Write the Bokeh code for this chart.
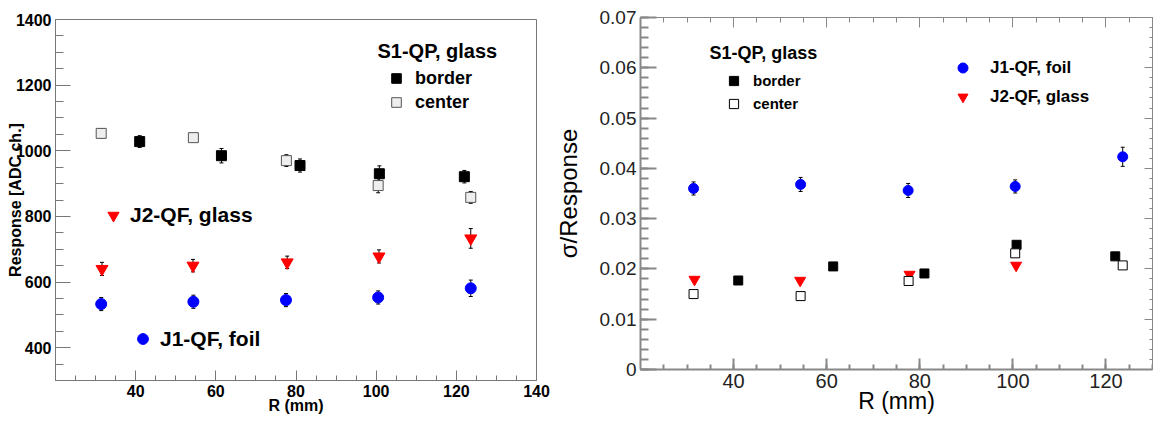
import math

from bokeh.embed import file_html
from bokeh.layouts import column, row
from bokeh.models import (ColumnDataSource, CustomJSTickFormatter, FixedTicker, Label,
                          Legend, LegendItem, LinearAxis, Range1d, TeeHead, Whisker)
from bokeh.plotting import figure
from bokeh.resources import INLINE

FONT = "Liberation Sans"

# ---------------- measured values ----------------
# S1-QP on glass, border and center positions
r_border = [41.0, 61.4, 81.0, 100.8, 122.0]
resp_border = [1028, 985, 955, 930, 921]
resp_border_err = [18, 22, 20, 24, 19]
sig_border = [0.0177, 0.0205, 0.0191, 0.0248, 0.0225]

r_center = [31.4, 54.4, 77.6, 100.5, 123.6]
resp_center = [1053, 1040, 970, 894, 858]
resp_center_err = [14, 12, 18, 22, 18]
sig_center = [0.0150, 0.0146, 0.0176, 0.0231, 0.0207]

# J2-QF on glass
r_j2 = [31.6, 54.3, 77.8, 100.7, 123.6]
resp_j2 = [640, 650, 660, 678, 733]
resp_j2_err = [20, 19, 19, 20, 30]
r_j2_sig = [31.6, 54.3, 77.8, 100.7]
sig_j2 = [0.0179, 0.0177, 0.0189, 0.0207]

# J1-QF on foil
r_j1 = [31.4, 54.4, 77.5, 100.5, 123.6]
resp_j1 = [533, 540, 545, 553, 581]
resp_j1_err = [20, 20, 20, 20, 25]
sig_j1 = [0.0360, 0.0368, 0.0356, 0.0364, 0.0423]
sig_j1_err = [0.0013, 0.0014, 0.0014, 0.0013, 0.0019]

# axis ticks
resp_x_ticks = [40, 60, 80, 100, 120, 140]
resp_y_ticks = [400, 600, 800, 1000, 1200, 1400]
sig_x_ticks = [40, 60, 80, 100, 120]
sig_y_ticks = [0.0, 0.01, 0.02, 0.03, 0.04, 0.05, 0.06, 0.07]


def source(x, y, e=None):
    data = dict(x=x, y=y)
    if e is not None:
        data["lo"] = [v - d for v, d in zip(y, e)]
        data["hi"] = [v + d for v, d in zip(y, e)]
    return ColumnDataSource(data)


def add_errors(p, src, width=1):
    p.add_layout(Whisker(source=src, base="x", lower="lo", upper="hi",
                         line_color="black", line_width=width,
                         lower_head=TeeHead(size=4, line_color="black", line_width=width),
                         upper_head=TeeHead(size=4, line_color="black", line_width=width)))


def style_axis(ax, color, width, major_in, minor_in, font_size, bold, label_color):
    ax.axis_line_color = color
    ax.axis_line_width = width
    ax.major_tick_line_color = color
    ax.minor_tick_line_color = color
    ax.major_tick_line_width = width
    ax.minor_tick_line_width = width
    ax.major_tick_in = major_in
    ax.major_tick_out = 0
    ax.minor_tick_in = minor_in
    ax.minor_tick_out = 0
    ax.major_label_text_font = FONT
    ax.major_label_text_font_size = font_size
    ax.major_label_text_font_style = "bold" if bold else "normal"
    ax.major_label_text_color = label_color
    ax.major_label_standoff = 4


def style_title(ax, text, size, bold, standoff):
    ax.axis_label = text
    ax.axis_label_text_font = FONT
    ax.axis_label_text_font_size = size
    ax.axis_label_text_font_style = "bold" if bold else "normal"
    ax.axis_label_text_color = "black"
    ax.axis_label_standoff = standoff


def tick_only_axis(ticker, major_in, minor_in):
    ax = LinearAxis(ticker=ticker)
    style_axis(ax, "#888888", 1, major_in, minor_in, "1px", False, None)
    ax.major_label_standoff = 0
    return ax


def legend(items, loc, glyph, standoff, size, spacing=0):
    return Legend(items=items, location=loc, orientation="vertical",
                  padding=0, margin=0, spacing=spacing,
                  glyph_width=glyph, glyph_height=glyph, label_height=glyph,
                  label_standoff=standoff, label_text_font=FONT,
                  label_text_font_style="bold", label_text_font_size=size,
                  label_text_color="black",
                  border_line_alpha=0, background_fill_alpha=0)


# ---------------- Response vs R ----------------
p1 = figure(width=550, height=424, x_range=Range1d(20, 140), y_range=Range1d(300, 1400),
            output_backend="svg", toolbar_location=None,
            min_border_left=55, min_border_right=14, min_border_top=19, min_border_bottom=44,
            background_fill_color="white", border_fill_color="white")
p1.grid.visible = False
p1.outline_line_color = "#777777"
p1.outline_line_width = 1

xa = p1.xaxis[0]
xa.ticker = FixedTicker(ticks=resp_x_ticks, minor_ticks=list(range(25, 140, 5)))
style_axis(xa, "#777777", 1, 10, 5, "16px", True, "black")
style_title(xa, "R (mm)", "16px", True, -3)
ya = p1.yaxis[0]
ya.ticker = FixedTicker(ticks=resp_y_ticks, minor_ticks=list(range(300, 1401, 50)))
style_axis(ya, "#777777", 1, 15, 8, "16px", True, "black")
style_title(ya, "Response [ADC ch.]", "16px", True, -11)

s_j1 = source(r_j1, resp_j1, resp_j1_err)
s_j2 = source(r_j2, resp_j2, resp_j2_err)
s_b = source(r_border, resp_border, resp_border_err)
s_c = source(r_center, resp_center, resp_center_err)
for s in (s_j1, s_j2, s_b, s_c):
    add_errors(p1, s)

rj1 = p1.scatter("x", "y", source=s_j1, marker="circle", size=11,
                 fill_color="#0000ff", line_color="#0000ff")
rj2 = p1.scatter("x", "y", source=s_j2, marker="inverted_triangle", size=12,
                 fill_color="#ff0000", line_color="#ff0000")
rb = p1.scatter("x", "y", source=s_b, marker="square", size=10,
                fill_color="black", line_color="black")
rc = p1.scatter("x", "y", source=s_c, marker="square", size=10,
                fill_color="#eeeeee", line_color="#555555")

p1.add_layout(legend([LegendItem(label="border", renderers=[rb]),
                      LegendItem(label="center", renderers=[rc])],
                     (329, 266), 24, 7, "18px"))
p1.add_layout(legend([LegendItem(label="J2-QF, glass", renderers=[rj2])],
                     (44, 151), 28, 3, "21px"))
p1.add_layout(legend([LegendItem(label="J1-QF, foil", renderers=[rj1])],
                     (74, 28), 27, 4, "21px"))

p1.add_layout(Label(x=322, y=330, x_units="screen", y_units="screen",
                    text="S1-QP, glass", text_font=FONT, text_font_style="bold",
                    text_color="black", text_font_size="20px",
                    text_baseline="middle", text_align="left"))

# ---------------- sigma/Response vs R ----------------
p2 = figure(width=603, height=424, x_range=Range1d(20, 130), y_range=Range1d(0, 0.07),
            output_backend="svg", toolbar_location=None,
            min_border_left=90, min_border_right=1, min_border_top=17, min_border_bottom=55,
            background_fill_color="white", border_fill_color="white")
p2.grid.visible = False
p2.outline_line_color = "#888888"
p2.outline_line_width = 1

x_minor = list(range(25, 131, 5))
y_minor = [i * 0.002 for i in range(0, 36)]
xb = p2.xaxis[0]
xb.ticker = FixedTicker(ticks=sig_x_ticks, minor_ticks=x_minor)
style_axis(xb, "#888888", 2, 11, 5, "20px", False, "#222222")
style_title(xb, "R (mm)", "23px", False, -3)
yb = p2.yaxis[0]
yb.ticker = FixedTicker(ticks=sig_y_ticks, minor_ticks=y_minor)
yb.formatter = CustomJSTickFormatter(code="return Math.abs(tick) < 1e-9 ? '0' : tick.toFixed(2)")
style_axis(yb, "#888888", 2, 16, 8, "19px", False, "#222222")
style_title(yb, "σ/Response", "24px", False, 15)

p2.add_layout(tick_only_axis(FixedTicker(ticks=sig_x_ticks, minor_ticks=x_minor), 10, 5), "above")
p2.add_layout(tick_only_axis(FixedTicker(ticks=sig_y_ticks, minor_ticks=y_minor), 8, 3), "right")

t_j1 = source(r_j1, sig_j1, sig_j1_err)
add_errors(p2, t_j1)
qj1 = p2.scatter("x", "y", source=t_j1, marker="circle", size=10,
                 fill_color="#0000ff", line_color="#0000ff")
qj2 = p2.scatter("x", "y", source=source(r_j2_sig, sig_j2), marker="inverted_triangle",
                 size=11, fill_color="#ff0000", line_color="#ff0000")
qb = p2.scatter("x", "y", source=source(r_border, sig_border), marker="square", size=9,
                fill_color="black", line_color="black")
qc = p2.scatter("x", "y", source=source(r_center, sig_center), marker="square", size=9,
                fill_color="white", line_color="black")

p2.add_layout(legend([LegendItem(label="border", renderers=[qb]),
                      LegendItem(label="center", renderers=[qc])],
                     (82, 254), 23, 8, "15px"))
p2.add_layout(legend([LegendItem(label="J1-QF, foil", renderers=[qj1]),
                      LegendItem(label="J2-QF, glass", renderers=[qj2])],
                     (310, 260), 25, 15, "17px", spacing=4))

p2.add_layout(Label(x=69, y=317, x_units="screen", y_units="screen",
                    text="S1-QP, glass", text_font=FONT, text_font_style="bold",
                    text_color="black", text_font_size="18px",
                    text_baseline="middle", text_align="left"))

page = row(column(p1), column(p2))
open("out.html", "w").write(file_html(page, INLINE))
